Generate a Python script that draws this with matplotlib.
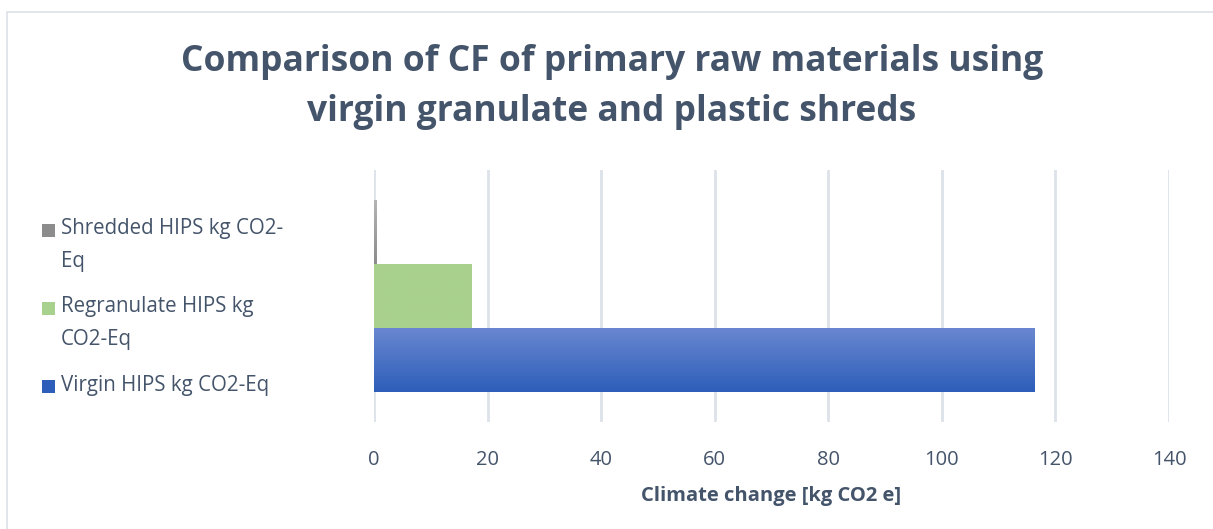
import numpy as np
import matplotlib
matplotlib.use("Agg")
import matplotlib.pyplot as plt
from matplotlib.patches import Rectangle
from matplotlib.colors import LinearSegmentedColormap

# Climate footprint of HIPS raw material options (kg CO2-Eq)
series = ["Virgin HIPS kg CO2-Eq", "Regranulate HIPS kg CO2-Eq", "Shredded HIPS kg CO2-Eq"]
legend_labels = ["Virgin HIPS kg CO2-Eq", "Regranulate HIPS kg\nCO2-Eq", "Shredded HIPS kg CO2-\nEq"]
values = [116.3, 17.1, 0.5]
top_colors = ["#6987D0", "#A9D18E", "#B4B4B4"]
bottom_colors = ["#2D5EB9", "#A9D18E", "#8C8C8C"]
xticks = [0, 20, 40, 60, 80, 100, 120, 140]

TEXT = "#44546A"
W, H = 1213, 529

plt.rcParams["font.family"] = ["Open Sans", "DejaVu Sans"]

fig = plt.figure(figsize=(W / 100, H / 100), dpi=100)
fig.patch.set_facecolor("white")

# outer chart frame
fig.patches.append(Rectangle((7 / W, -0.1), 1.2, 1.1 - 12 / H, transform=fig.transFigure,
                             fill=False, edgecolor="#DDE1E6", linewidth=1.2))

ax = fig.add_axes([374 / W, 1 - 422 / H, (1169 - 374) / W, (422 - 170) / H])
ypos = np.arange(len(values))
bars = ax.barh(ypos, values, height=1.0, color=top_colors, linewidth=0, zorder=2)

# vertical gradient fill on each bar
for bar, c0, c1 in zip(bars, top_colors, bottom_colors):
    cmap = LinearSegmentedColormap.from_list("g", [c1, c0])
    x0, y0 = bar.get_x(), bar.get_y()
    w, h = bar.get_width(), bar.get_height()
    grad = np.linspace(0, 1, 100).reshape(-1, 1)
    im = ax.imshow(grad, cmap=cmap, aspect="auto", origin="lower",
                   extent=[x0, x0 + w, y0, y0 + h], zorder=3)
    im.set_clip_path(bar)

pad = 0.47
ax.set_ylim(-0.5 - pad, len(values) - 0.5 + pad)
ax.set_xlim(0, 140)
ax.set_xticks(xticks)
ax.set_yticks([])
ax.grid(axis="x", color="#DDE2E9", linewidth=2, zorder=0)
for s in ax.spines.values():
    s.set_visible(False)
ax.tick_params(axis="x", length=0, labelsize=14.5, labelcolor=TEXT, pad=20)
ax.set_xlabel("Climate change [kg CO2 e]", fontsize=14.5, fontweight="bold", color=TEXT, labelpad=12)

fig.text(612 / W, 1 - 87 / H,
         "Comparison of CF of primary raw materials using\nvirgin granulate and plastic shreds",
         ha="center", va="center", fontsize=25.5, fontweight="bold", color=TEXT, linespacing=1.52)

# legend on the left
legend_y = [386, 323, 245]
for lab, yc, c0, c1 in zip(legend_labels, legend_y, top_colors, bottom_colors):
    first_line_y = yc if "\n" not in lab else yc - 15
    fig.patches.append(Rectangle((42 / W, 1 - (first_line_y + 7) / H), 13 / W, 13 / H,
                                 transform=fig.transFigure, color=c1, linewidth=0))
    fig.text(61 / W, 1 - yc / H, lab, ha="left", va="center", fontsize=14.8,
             color=TEXT, linespacing=1.75)

fig.savefig("out.png", dpi=100)
